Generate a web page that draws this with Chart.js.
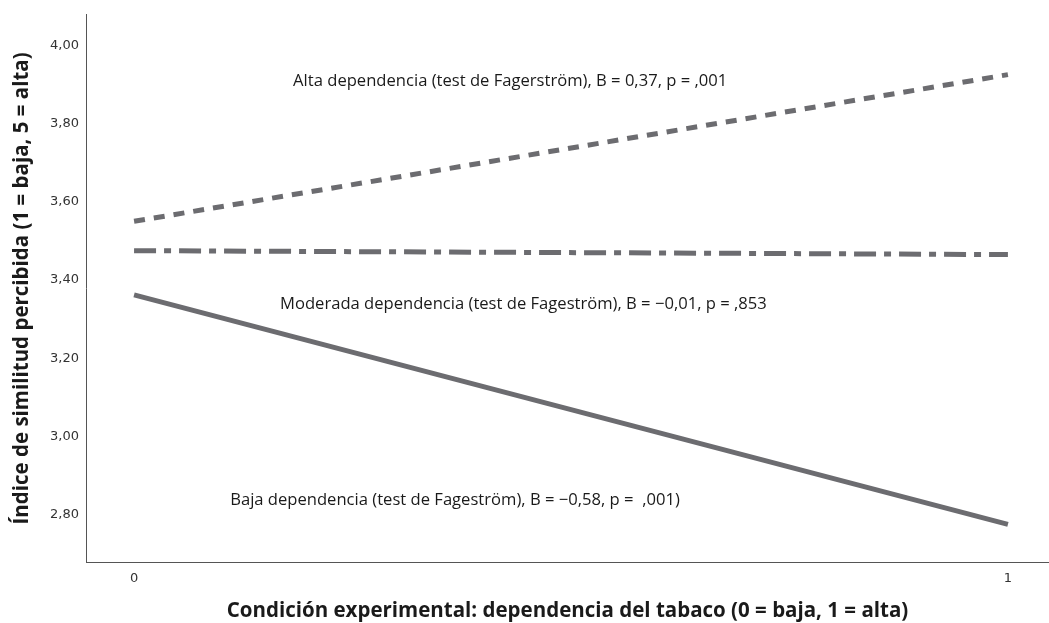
<!DOCTYPE html>
<html>
<head>
<meta charset="utf-8">
<script src="https://cdn.jsdelivr.net/npm/chart.js@4"></script>
<style>
  html, body { margin: 0; padding: 0; background: #fff; }
  #wrap { width: 1049px; height: 623px; position: relative; }
</style>
</head>
<body>
<div id="wrap"><canvas id="simChart"></canvas></div>
<script>
// condición experimental (0 = baja, 1 = alta)
const condiciones = [0, 1];
const altaDep = [3.55, 3.925];
const moderadaDep = [3.475, 3.465];
const bajaDep = [3.362, 2.775];
const yTicks = [2.8, 3.0, 3.2, 3.4, 3.6, 3.8, 4.0];

const notas = [
  { text: "Alta dependencia (test de Fagerström), B = 0,37, p = ,001", x: 0.182, y: 3.908 },
  { text: "Moderada dependencia (test de Fageström), B = \u22120,01, p = ,853", x: 0.167, y: 3.339 },
  { text: "Baja dependencia (test de Fageström), B = \u22120,58, p =  ,001)", x: 0.110, y: 2.837 }
];

const gris = "#6c6c70";

function puntos(vals) {
  return condiciones.map((c, i) => ({ x: c, y: vals[i] }));
}

// draws the text notes at data positions
const notasPlugin = {
  id: "notas",
  afterDatasetsDraw(chart) {
    const c = chart.ctx;
    const xs = chart.scales.x, ys = chart.scales.y;
    c.save();
    c.font = "16.6px 'Open Sans'";
    c.fillStyle = "#1a1a1a";
    c.textBaseline = "middle";
    c.textAlign = "left";
    notas.forEach(n => {
      c.fillText(n.text, xs.getPixelForValue(n.x), ys.getPixelForValue(n.y));
    });
    c.restore();
  }
};

let ctx = document.getElementById("simChart").getContext("2d");
let simChart = new Chart(ctx, {
  type: "line",
  data: {
    datasets: [
      { label: "Alta", data: puntos(altaDep), borderColor: gris, borderWidth: 5, borderDash: [11, 9], pointRadius: 0 },
      { label: "Moderada", data: puntos(moderadaDep), borderColor: gris, borderWidth: 5, borderDash: [22, 8, 7, 8], pointRadius: 0 },
      { label: "Baja", data: puntos(bajaDep), borderColor: gris, borderWidth: 5, pointRadius: 0 }
    ]
  },
  options: {
    responsive: true,
    maintainAspectRatio: false,
    animation: false,
    layout: { padding: { top: 11, right: 0, bottom: 0, left: 0 } },
    scales: {
      x: {
        type: "linear",
        min: -0.055,
        max: 1.047,
        grid: { display: false, drawTicks: false },
        border: { display: true, color: "#555", width: 1 },
        afterBuildTicks: s => { s.ticks = condiciones.map(v => ({ value: v })); },
        afterFit: s => { s.height = 61; },
        ticks: { padding: 9, color: "#333", font: { family: "DejaVu Sans", size: 13 }, callback: v => String(v) },
        title: {
          display: true,
          text: "Condición experimental: dependencia del tabaco (0 = baja, 1 = alta)",
          color: "#1a1a1a",
          font: { family: "Open Sans", size: 20.5, weight: "bold" },
          padding: { top: 0, bottom: 0 }
        }
      },
      y: {
        min: 2.679,
        max: 4.078,
        grid: { display: false, drawTicks: false },
        border: { display: true, color: "#555", width: 1 },
        afterBuildTicks: s => { s.ticks = yTicks.map(v => ({ value: v })); },
        afterFit: s => { s.width = 86; },
        ticks: { padding: 7, color: "#333", font: { family: "DejaVu Sans", size: 13 }, callback: v => v.toFixed(2).replace(".", ",") },
        title: {
          display: true,
          text: "Índice de similitud percibida (1 = baja, 5 = alta)",
          color: "#1a1a1a",
          font: { family: "Open Sans", size: 20.5, weight: "bold" },
          padding: { top: 10, bottom: 0 }
        }
      }
    },
    plugins: {
      legend: { display: false },
      tooltip: { enabled: false }
    }
  },
  plugins: [notasPlugin]
});
</script>
</body>
</html>
